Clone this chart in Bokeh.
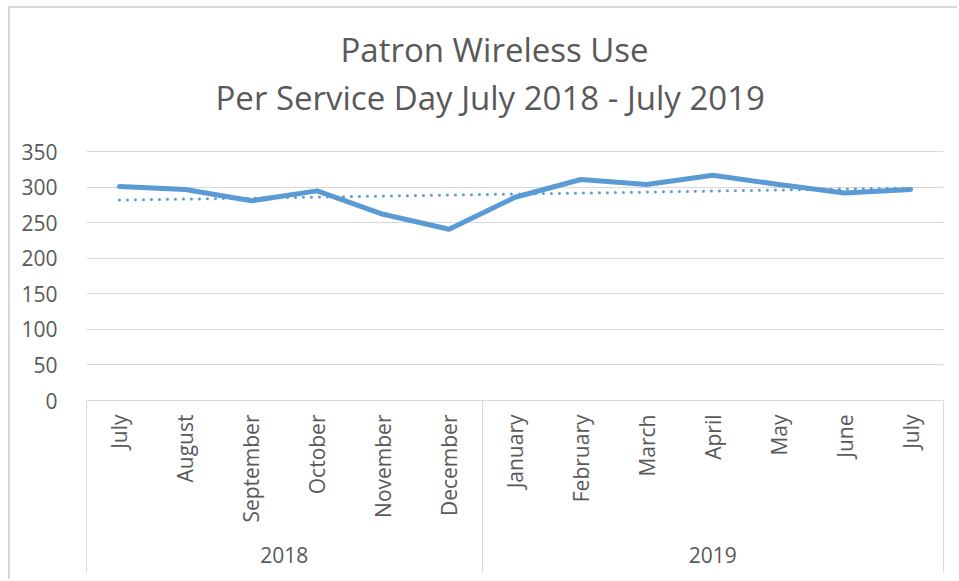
import math
import numpy as np
from bokeh.plotting import figure
from bokeh.models import Range1d, LinearAxis, FixedTicker, Title
from bokeh.embed import file_html
from bokeh.resources import INLINE

# ---- data ----
months = ["July", "August", "September", "October", "November", "December",
          "January", "February", "March", "April", "May", "June", "July"]
years = ["2018", "2019"]
months_per_year = [6, 7]
wireless_use = [301, 297, 281, 295, 262, 241, 286, 311, 304, 317, 304, 292, 297]
trend_ends = [282, 299]          # linear trendline value at first / last month
y_ticks = [0, 50, 100, 150, 200, 250, 300, 350]

TEXT = "#595959"
GRID = "#d9d9d9"
BLUE = "#5b9bd5"
FONT = "Open Sans"

n = len(months)
xs = np.arange(n) + 0.5
bounds = [0] + list(np.cumsum(months_per_year))
year_centers = [(bounds[i] + bounds[i + 1]) / 2 for i in range(len(years))]

p = figure(width=949, height=573, output_backend="svg", toolbar_location=None,
           title=None, x_range=Range1d(0, n), y_range=Range1d(0, 392.6),
           x_axis_type=None, min_border_left=76, min_border_right=16,
           min_border_top=113, min_border_bottom=181)
p.margin = (6, 0, 0, 8)
p.styles = {"border-left": "2px solid #d9d9d9", "border-top": "2px solid #d9d9d9"}
p.outline_line_color = None
p.background_fill_color = "white"
p.border_fill_color = "white"

# y axis
p.yaxis.ticker = FixedTicker(ticks=y_ticks)
p.yaxis.axis_line_color = None
p.yaxis.major_tick_line_color = None
p.yaxis.minor_tick_line_color = None
p.yaxis.major_label_standoff = 23
p.yaxis.major_label_text_font = FONT
p.yaxis.major_label_text_font_size = "21px"
p.yaxis.major_label_text_color = TEXT
p.ygrid.ticker = FixedTicker(ticks=y_ticks)
p.ygrid.grid_line_color = GRID
p.ygrid.grid_line_width = 1

# month axis (group separators drawn as long minor ticks)
SEP = 172
month_axis = LinearAxis(
    ticker=FixedTicker(ticks=list(xs), minor_ticks=[float(b) for b in bounds]),
    major_label_overrides={float(x): m for x, m in zip(xs, months)},
    major_label_orientation=math.pi / 2,
    major_label_standoff=14 - SEP,
    major_label_text_font=FONT, major_label_text_font_size="21px",
    major_label_text_color=TEXT,
    axis_line_color=GRID, axis_line_width=1,
    major_tick_in=0, major_tick_out=0, major_tick_line_color=None,
    minor_tick_in=0, minor_tick_out=SEP, minor_tick_line_color=GRID,
    minor_tick_line_width=1,
)
p.add_layout(month_axis, "below")

year_axis = LinearAxis(
    ticker=FixedTicker(ticks=year_centers, minor_ticks=[]),
    major_label_overrides={float(c): y for c, y in zip(year_centers, years)},
    major_label_orientation="horizontal",
    major_label_standoff=15,
    major_label_text_font=FONT, major_label_text_font_size="21px",
    major_label_text_color=TEXT,
    axis_line_color=None, major_tick_line_color=None, minor_tick_line_color=None,
)
p.add_layout(year_axis, "below")

# series
p.line(xs, wireless_use, line_color=BLUE, line_width=5,
       line_join="round", line_cap="round")
p.line([xs[0], xs[-1]], trend_ends, line_color=BLUE, line_width=3,
       line_dash="0 8", line_cap="round")

# titles
p.add_layout(Title(text="Per Service Day July 2018 - July 2019", align="left",
                   offset=129, text_font=FONT, text_font_size="33px",
                   text_font_style="normal", text_color=TEXT, standoff=3), "above")
p.add_layout(Title(text="Patron Wireless Use", align="left", offset=254,
                   text_font=FONT, text_font_size="33px",
                   text_font_style="normal", text_color=TEXT, standoff=0), "above")

open("out.html", "w").write(file_html(p, INLINE))
